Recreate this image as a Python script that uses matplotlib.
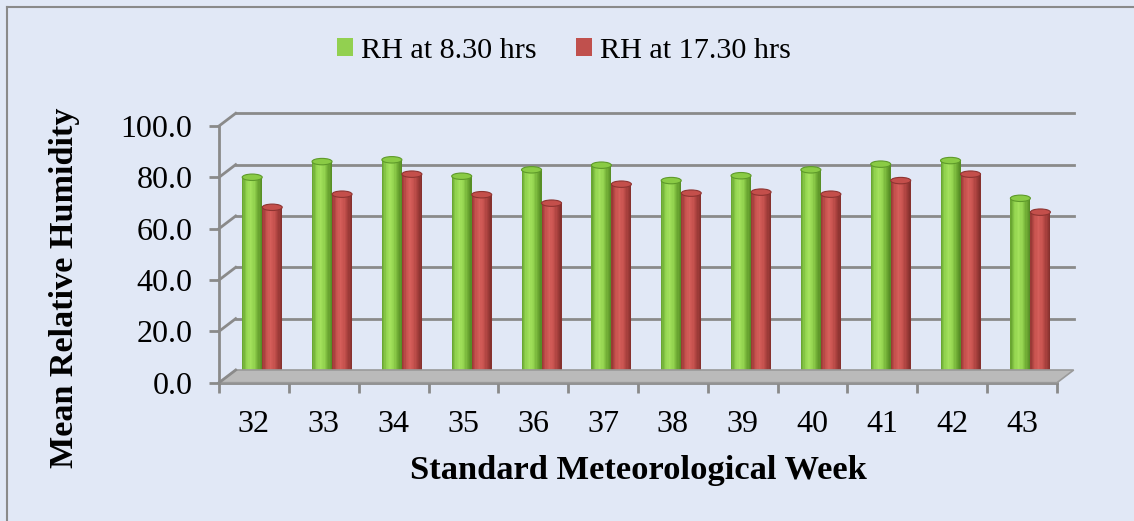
import matplotlib.pyplot as plt
import matplotlib.transforms as mtransforms
from matplotlib.patches import Ellipse, Polygon, Patch
from matplotlib.lines import Line2D
from matplotlib.colors import LinearSegmentedColormap
import numpy as np

weeks = ['32', '33', '34', '35', '36', '37', '38', '39', '40', '41', '42', '43']
rh_morning = [77.5, 83.6, 84.3, 77.9, 80.4, 82.2, 76.2, 78.1, 80.4, 82.6, 84.0, 69.3]
rh_evening = [65.8, 70.9, 78.7, 70.7, 67.4, 74.8, 71.3, 71.7, 70.9, 76.2, 78.7, 63.9]
yticks = [0, 20, 40, 60, 80, 100]

plt.rcParams['font.family'] = ['Liberation Serif', 'DejaVu Serif']

fig = plt.figure(figsize=(11.34, 5.21), dpi=100)
fig.patch.set_facecolor('#e1e8f6')

# frame line (only top/left visible in the original)
fig.add_artist(Line2D([7/1134, 7/1134], [0, 1 - 7/521], color='#8a8a8a', lw=1.5))
fig.add_artist(Line2D([7/1134, 1], [1 - 7/521, 1 - 7/521], color='#8a8a8a', lw=1.5))

ax = fig.add_axes([219/1134, (521 - 382.7)/521, 838/1134, (382.7 - 126)/521])
ax.set_facecolor('none')
n = len(weeks)
ax.set_xlim(-0.5, n - 0.5)
ax.set_ylim(0, 100)

grid_c = '#8a8a8a'
back = mtransforms.offset_copy(ax.transData, fig=fig, x=16.7, y=12.7, units='dots')
mid = mtransforms.offset_copy(ax.transData, fig=fig, x=8.3, y=6.5, units='dots')

# floor
x0, x1 = -0.5, n - 0.5
fl = ax.transData
bk = back
pts = [fl.transform((x0, 0)), fl.transform((x1, 0)), bk.transform((x1, 0)), bk.transform((x0, 0))]
floor = Polygon(pts, closed=True, facecolor='#bababa', edgecolor='#9a9a9a', lw=1.2, zorder=1)
floor.set_transform(mtransforms.IdentityTransform())
fig.add_artist(floor)

# back wall gridlines and side wall diagonals
for v in yticks[1:]:
    ax.plot([x0, x1], [v, v], color=grid_c, lw=2, transform=back, clip_on=False, zorder=2)
for v in yticks:
    p0 = fl.transform((x0, v))
    p1 = bk.transform((x0, v))
    fig.add_artist(Line2D([p0[0], p1[0]], [p0[1], p1[1]], color=grid_c, lw=2,
                          transform=mtransforms.IdentityTransform(), zorder=2))

# cylinders
green_cm = LinearSegmentedColormap.from_list('g', ['#6aa632', '#92d34f', '#a3e15c', '#94d450', '#72ae36', '#578f26'])
red_cm = LinearSegmentedColormap.from_list('r', ['#9a3a37', '#c6524e', '#d55e5a', '#c7534f', '#a7403d', '#86312e'])
bw = 0.2865
nstrip = 16
ell_h = 2.5

def cylinder(xc, h, cmap, top_c, top_e, z):
    ax.add_patch(Ellipse((xc, 0), bw, ell_h, transform=mid, facecolor=cmap(0.45),
                         edgecolor='none', zorder=z, clip_on=False))
    sw = bw / nstrip
    xs = xc - bw / 2 + sw * (np.arange(nstrip) + 0.5)
    cols = [cmap(t) for t in np.linspace(0, 1, nstrip)]
    ax.bar(xs, [h] * nstrip, width=sw * 1.05, color=cols, transform=mid,
           zorder=z, clip_on=False, linewidth=0)
    ax.add_patch(Ellipse((xc, h), bw, ell_h, transform=mid, facecolor=top_c,
                         edgecolor=top_e, lw=0.8, zorder=z + 0.5, clip_on=False))

for i in range(n):
    cylinder(i - bw / 2, rh_morning[i], green_cm, '#8acb45', '#5e9a2a', 3)
    cylinder(i + bw / 2, rh_evening[i], red_cm, '#c44f4b', '#8e3431', 4)

# axes styling
for s in ['top', 'right']:
    ax.spines[s].set_visible(False)
for s in ['left', 'bottom']:
    ax.spines[s].set_color(grid_c)
    ax.spines[s].set_linewidth(2)
    ax.spines[s].set_zorder(5)

ax.set_yticks(yticks)
ax.set_yticklabels([f'{v:.1f}' for v in yticks])
ax.tick_params(axis='y', length=7, width=2, color=grid_c, pad=12, labelsize=23)
ax.set_xticks(range(n))
ax.set_xticklabels(weeks)
ax.tick_params(axis='x', which='major', length=0, pad=20, labelsize=23)
ax.set_xticks(np.arange(n + 1) - 0.5, minor=True)
ax.tick_params(axis='x', which='minor', length=7, width=2, color=grid_c)

fig.text(65/1134, 1 - 288/521, 'Mean Relative Humidity', rotation=90, ha='center', va='center',
         fontsize=24.6, fontweight='bold')
fig.text(638/1134, 1 - 470/521, 'Standard Meteorological Week', ha='center', va='center',
         fontsize=24.8, fontweight='bold')

handles = [Patch(facecolor='#92d050', edgecolor='none'), Patch(facecolor='#c0504d', edgecolor='none')]
fig.legend(handles, ['RH at 8.30 hrs', 'RH at 17.30 hrs'], loc='center', bbox_to_anchor=(0.497, 1 - 51/521),
           ncol=2, frameon=False, fontsize=21.7, handlelength=0.55, handleheight=0.55,
           handletextpad=0.25, columnspacing=1.3)

fig.savefig('out.png', dpi=100, facecolor=fig.get_facecolor())
